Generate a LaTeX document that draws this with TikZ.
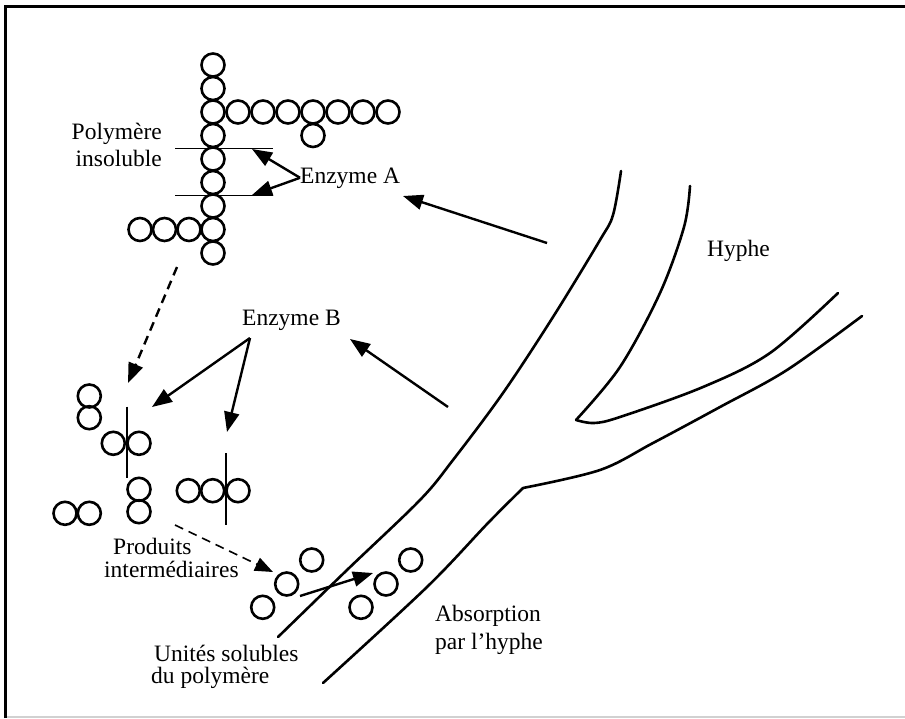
\documentclass[tikz,border=0pt]{standalone}
\usepackage{fontspec}
\setmainfont{Liberation Serif}
\usetikzlibrary{arrows.meta}
\begin{document}
\begin{tikzpicture}[x=1pt,y=-1pt,
  unit/.style={line width=2.6pt},
  lbl/.style={inner sep=0pt, font=\fontsize{23.5}{27}\selectfont},
  arr/.style={line width=2.4pt, -{Triangle[length=20pt,width=15pt]}},
  darr/.style={arr, dash pattern=on 9pt off 6pt},
  cut/.style={line width=1.6pt},
  wall/.style={line width=2.6pt, line cap=round, line join=round}]
\useasboundingbox (0,0) rectangle (905,718);

% frame
\draw[line width=3pt] (5.5,718) -- (5.5,6.5) -- (905,6.5);
\draw[black!18, line width=1.5pt] (7,717) -- (905,717);

% insoluble polymer: main chain and branches
\foreach \y in {65,88.5,112,135.5,159,182.5,206,229.5,253}
  \draw[unit] (213,\y) circle[radius=11.5pt];
\foreach \x in {238,263,288,313,338,363,388}
  \draw[unit] (\x,112) circle[radius=11.5pt];
\draw[unit] (313,135.5) circle[radius=11.5pt];
\foreach \x in {140,164.5,189}
  \draw[unit] (\x,229.5) circle[radius=11.5pt];

% cleavage sites of enzyme A
\coordinate (cutA1) at (252,149);
\coordinate (cutA2) at (252,195);
\draw[cut] (175,148.5) -- (273,148.5);
\draw[cut] (175,195.5) -- (273,195.5);

% intermediate products
\foreach \p in {(89.3,396),(89.3,417.7),(113.3,443.3),(139,443.3),(139,489.3),(139,511.7),
                (65,513.3),(89.3,513.3),(188.3,490.7),(212.7,490.7),(238,490.7)}
  \draw[unit] \p circle[radius=11.5pt];
\draw[cut] (126.7,406.7) -- (126.7,478.3);
\draw[cut] (225.7,453.3) -- (225.7,525);

% soluble units, outside and inside the hypha
\foreach \p in {(311.7,560),(286.7,584),(262.7,607.3),(410.7,560),(386,584),(361,607.3)}
  \draw[unit] \p circle[radius=11.5pt];

% hypha walls
\draw[wall] plot[smooth, tension=0.55] coordinates
  {(621,171) (613,215) (600,240) (553,317) (503,393) (453,460) (420,500) (347,570) (278,637)};
\draw[wall] plot[smooth, tension=0.55] coordinates
  {(690,186) (684,227) (660,293) (620,367) (576,420)};
\draw[wall] plot[smooth, tension=0.55] coordinates
  {(576,420) (594,423) (620,417) (703,387) (770,353) (838,293)};
\draw[wall] plot[smooth, tension=0.55] coordinates
  {(862,316) (787,370) (720,407) (653,443) (600,470) (523,488)};
\draw[wall] plot[smooth, tension=0.55] coordinates
  {(523,488) (488,523) (427,587) (323,683)};

% labels
\node[lbl, anchor=east, align=right] (poly) at (162,145) {Polymère\\insoluble};
\node[lbl, anchor=base west] (enzA) at (300,183) {Enzyme A};
\node[lbl, anchor=base west] (enzB) at (242,325) {Enzyme B};
\node[lbl, anchor=base west] (hyphe) at (707,256.5) {Hyphe};
\node[lbl, anchor=west, align=left, font=\fontsize{23.5}{23}\selectfont] (prod) at (104,558)
  {\hspace*{9pt}Produits\\intermédiaires};
\node[lbl, anchor=west, align=left, font=\fontsize{23.5}{28}\selectfont] (abs) at (435,630)
  {Absorption\\par l'hyphe};
\node[lbl, anchor=west, align=left, font=\fontsize{23.5}{22}\selectfont] (unit) at (154,667)
  {Unités solubles\\\hspace*{-3pt}du polymère};

% arrow end points
\coordinate (hA) at (547,243);
\coordinate (tA) at (403,196);
\coordinate (hB) at (448,407);
\coordinate (tB) at (350,339);
\coordinate (bfork) at (250,338);
\coordinate (tB1) at (152,407);
\coordinate (tB2) at (227,432);
\coordinate (d1s) at (177,267);
\coordinate (d1e) at (128,383);
\coordinate (d2s) at (175,525);
\coordinate (d2e) at (273,572);
\coordinate (absS) at (300,596);
\coordinate (absE) at (373,573);

% arrows
\draw[arr] (enzA.west) -- (cutA1);
\draw[arr] (enzA.west) -- (cutA2);
\draw[arr] (hA) -- (tA);
\draw[arr] (hB) -- (tB);
\draw[arr] (bfork) -- (tB1);
\draw[arr] (bfork) -- (tB2);
\draw[darr] (d1s) -- (d1e);
\draw[darr, line width=1.6pt, -{Triangle[length=18pt,width=14pt]}] (d2s) -- (d2e);
\draw[arr] (absS) -- (absE);
\end{tikzpicture}
\end{document}
